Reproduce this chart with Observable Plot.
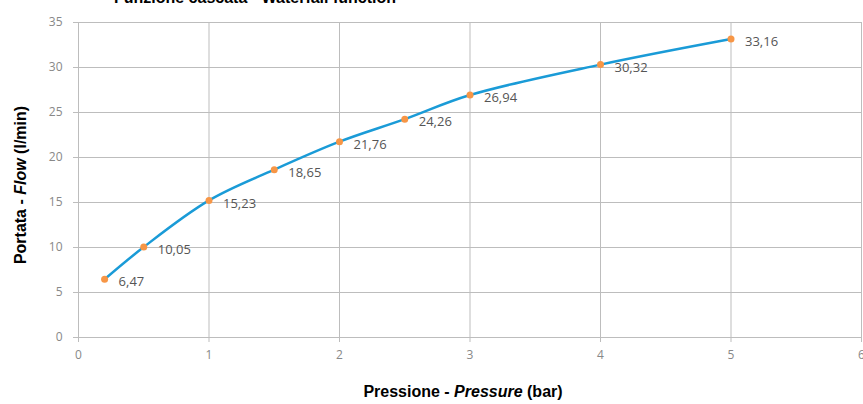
<!DOCTYPE html>
<html>
<head>
<meta charset="utf-8">
<script src="https://cdn.jsdelivr.net/npm/d3@7"></script>
<script src="https://cdn.jsdelivr.net/npm/@observablehq/plot@0.6"></script>
<style>
  html, body { margin: 0; padding: 0; background: #fff; }
  #chart { width: 863px; height: 404px; overflow: hidden; }
</style>
</head>
<body>
<div id="chart"></div>
<script>
const pressure = [0.2, 0.5, 1, 1.5, 2, 2.5, 3, 4, 5];
const flow = [6.47, 10.05, 15.23, 18.65, 21.76, 24.26, 26.94, 30.32, 33.16];
const flowLabels = ["6,47", "10,05", "15,23", "18,65", "21,76", "24,26", "26,94", "30,32", "33,16"];
const xTicks = [0, 1, 2, 3, 4, 5, 6];
const yTicks = [0, 5, 10, 15, 20, 25, 30, 35];
const titleText = "Funzione cascata - Waterfall function";

const data = pressure.map((p, i) => ({x: p, y: flow[i], label: flowLabels[i]}));

const tickFont = "Open Sans, Liberation Sans, sans-serif";

const plot = Plot.plot({
  width: 863,
  height: 404,
  marginLeft: 78,
  marginRight: 2,
  marginTop: 22,
  marginBottom: 67,
  style: {background: "#fff", fontFamily: tickFont},
  x: {domain: [0, 6], label: null},
  y: {domain: [0, 35], label: null},
  marks: [
    Plot.gridX(xTicks, {stroke: "#bdbdbd", strokeOpacity: 1, strokeWidth: 1}),
    Plot.gridY(yTicks, {stroke: "#bdbdbd", strokeOpacity: 1, strokeWidth: 1}),
    Plot.axisX(xTicks, {tickSize: 5, tickPadding: 8, tickFormat: "d", stroke: "#bdbdbd", fill: "#888", fontSize: 12, label: null}),
    Plot.axisY(yTicks, {tickSize: 5, tickPadding: 11, tickFormat: "d", stroke: "#bdbdbd", fill: "#888", fontSize: 12, label: null}),
    Plot.line(data, {x: "x", y: "y", curve: "catmull-rom", stroke: "#1a9bd7", strokeWidth: 2.5}),
    Plot.dot(data, {x: "x", y: "y", r: 3.5, fill: "#f79646", stroke: "none"}),
    Plot.text(data, {x: "x", y: "y", text: "label", dx: 14, dy: 3, textAnchor: "start", fill: "#555", fontSize: 13})
  ]
});

document.getElementById("chart").appendChild(plot);

const svg = d3.select(plot);
// Title (partly cut at the top, as in the reference)
svg.append("text")
  .attr("x", 255).attr("y", 3)
  .attr("text-anchor", "middle")
  .attr("font-family", "Liberation Sans, Arial, sans-serif")
  .attr("font-weight", "bold").attr("font-size", 16).attr("fill", "#000")
  .text(titleText);

// X axis title
const xt = svg.append("text")
  .attr("x", 463).attr("y", 397)
  .attr("text-anchor", "middle")
  .attr("font-family", "Liberation Sans, Arial, sans-serif")
  .attr("font-weight", "bold").attr("font-size", 16).attr("fill", "#000");
xt.append("tspan").text("Pressione - ");
xt.append("tspan").attr("font-style", "italic").text("Pressure");
xt.append("tspan").text(" (bar)");

// Y axis title
const yt = svg.append("text")
  .attr("transform", "translate(26,185) rotate(-90)")
  .attr("text-anchor", "middle")
  .attr("font-family", "Liberation Sans, Arial, sans-serif")
  .attr("font-weight", "bold").attr("font-size", 16).attr("fill", "#000");
yt.append("tspan").text("Portata - ");
yt.append("tspan").attr("font-style", "italic").text("Flow");
yt.append("tspan").text(" (l/min)");
</script>
</body>
</html>
